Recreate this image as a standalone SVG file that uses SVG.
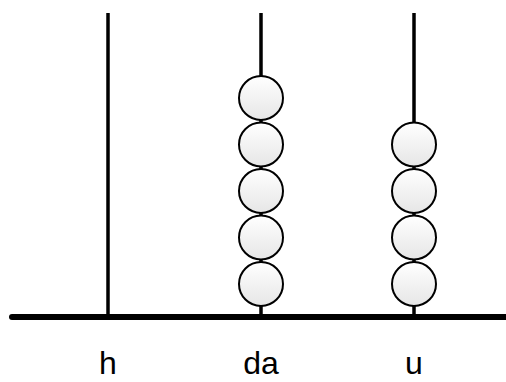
<svg xmlns="http://www.w3.org/2000/svg" width="506" height="382" viewBox="0 0 506 382">
<style>
.rod{stroke:#000;stroke-width:3.5;fill:none}
.base{stroke:#000;stroke-width:6;stroke-linecap:round;fill:none}
.bead{fill:url(#g);stroke:#000;stroke-width:2}
.lbl{font-family:"Liberation Sans",Arial,sans-serif;font-size:32px;fill:#000;text-anchor:middle}
</style>
<defs>
<linearGradient id="g" x1="0" y1="0" x2="0" y2="1">
<stop offset="0" stop-color="#ffffff"/>
<stop offset="1" stop-color="#e6e6e6"/>
</linearGradient>
</defs>
<g id="connectors">
<line class="rod" x1="108" y1="13" x2="108" y2="316"/>
<line class="rod" x1="261" y1="13" x2="261" y2="316"/>
<line class="rod" x1="414" y1="13" x2="414" y2="316"/>
<line class="base" x1="12" y1="317" x2="512" y2="317"/>
</g>
<g id="rod-h">
<text class="lbl" x="108" y="374">h</text>
</g>
<g id="rod-da">
<circle class="bead" cx="261" cy="98" r="22"/>
<circle class="bead" cx="261" cy="144.5" r="22"/>
<circle class="bead" cx="261" cy="191" r="22"/>
<circle class="bead" cx="261" cy="237.5" r="22"/>
<circle class="bead" cx="261" cy="284" r="22"/>
<text class="lbl" x="261" y="374">da</text>
</g>
<g id="rod-u">
<circle class="bead" cx="414" cy="144.5" r="22"/>
<circle class="bead" cx="414" cy="191" r="22"/>
<circle class="bead" cx="414" cy="237.5" r="22"/>
<circle class="bead" cx="414" cy="284" r="22"/>
<text class="lbl" x="414" y="374">u</text>
</g>
</svg>
